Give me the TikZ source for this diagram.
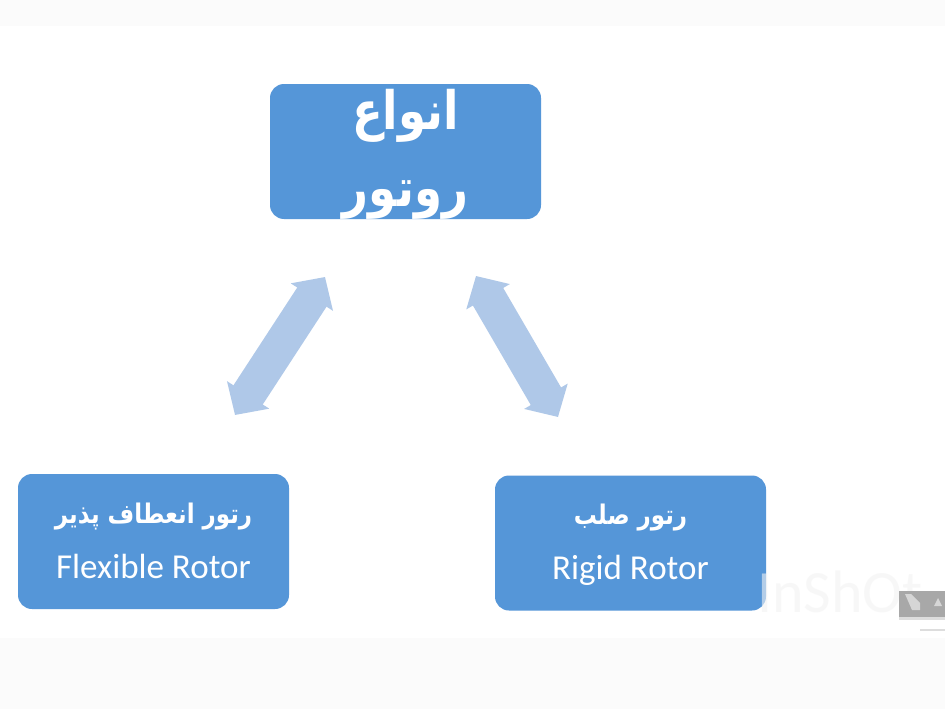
\documentclass[tikz,border=0pt]{standalone}
\usepackage{fontspec}
\setmainfont{Carlito}
\newfontfamily\titlefont[Script=Arabic,FakeStretch=0.85]{DejaVu Sans}
\TeXXeTstate=1
\usetikzlibrary{arrows.meta}
\definecolor{boxblue}{HTML}{5596D8}
\definecolor{arrowblue}{HTML}{AFC8E8}
\definecolor{bandgrey}{HTML}{FBFBFB}
\definecolor{markgrey}{HTML}{F3F3F3}
\definecolor{tabgrey}{HTML}{A8A8A8}
\definecolor{tabshade}{HTML}{DDDDDD}
\definecolor{tabicon}{HTML}{D6D6D6}
\newcommand{\bigline}[1]{\smash{\raisebox{-16pt}{\titlefont\beginR #1\endR}}}
\newcommand{\farsiline}[1]{\smash{\raisebox{-9pt}{\fontsize{27}{55}\selectfont\bfseries\titlefont\beginR #1\endR}}}
\newcommand{\latinline}[1]{\smash{\raisebox{-9pt}{#1}}}
\tikzset{rotorbox/.style={fill=boxblue,rounded corners=14pt,minimum width=271pt,minimum height=135pt,inner sep=0pt,text=white,align=center}}
\tikzset{rotorlabel/.style={font=\fontsize{35}{55}\selectfont}}
\tikzset{bothway/.style={draw=arrowblue,line width=35pt,{Triangle[length=24pt,width=49pt]}-{Triangle[length=24pt,width=49pt]}}}
\begin{document}
\begin{tikzpicture}[x=1pt,y=-1pt]
	\useasboundingbox (0,0) rectangle (945,709);
	\fill[white] (0,0) rectangle (945,709);
	\fill[bandgrey] (0,0) rectangle (945,26);
	\fill[bandgrey] (0,638) rectangle (945,709);

	\node[rotorbox,font=\fontsize{53}{77}\selectfont\bfseries] (types) at (405.5,151.5) {\bigline{انواع}\\\bigline{روتور}};
	\node[rotorbox,rotorlabel] (flexible) at (153.5,541.5) {\farsiline{رتور انعطاف پذیر}\\\latinline{Flexible Rotor}};
	\node[rotorbox,rotorlabel] (rigid) at (630.5,543) {\farsiline{رتور صلب}\\\latinline{Rigid Rotor}};

	\coordinate (leftup) at (325,277);
	\coordinate (leftdown) at (235,415);
	\coordinate (rightup) at (476,276);
	\coordinate (rightdown) at (558,417);
	\draw[bothway] (leftup) -- (leftdown);
	\draw[bothway] (rightup) -- (rightdown);

	\node[text=markgrey,text opacity=.6,font=\fontsize{60}{60}\selectfont,inner sep=0pt] (mark) at (840,592) {InShOt};
	\fill[tabshade] (899,617) rectangle (945,620);
	\fill[tabgrey] (899,591) rectangle (945,617);
	\fill[tabicon] (905,594) -- (911,594) -- (920,603) -- (920,610) -- (912,610) -- cycle;
	\fill[tabicon] (938,598) -- (942,606) -- (934,606) -- cycle;
	\draw[tabshade,line width=2pt] (920,630) -- (945,630);
\end{tikzpicture}
\end{document}
